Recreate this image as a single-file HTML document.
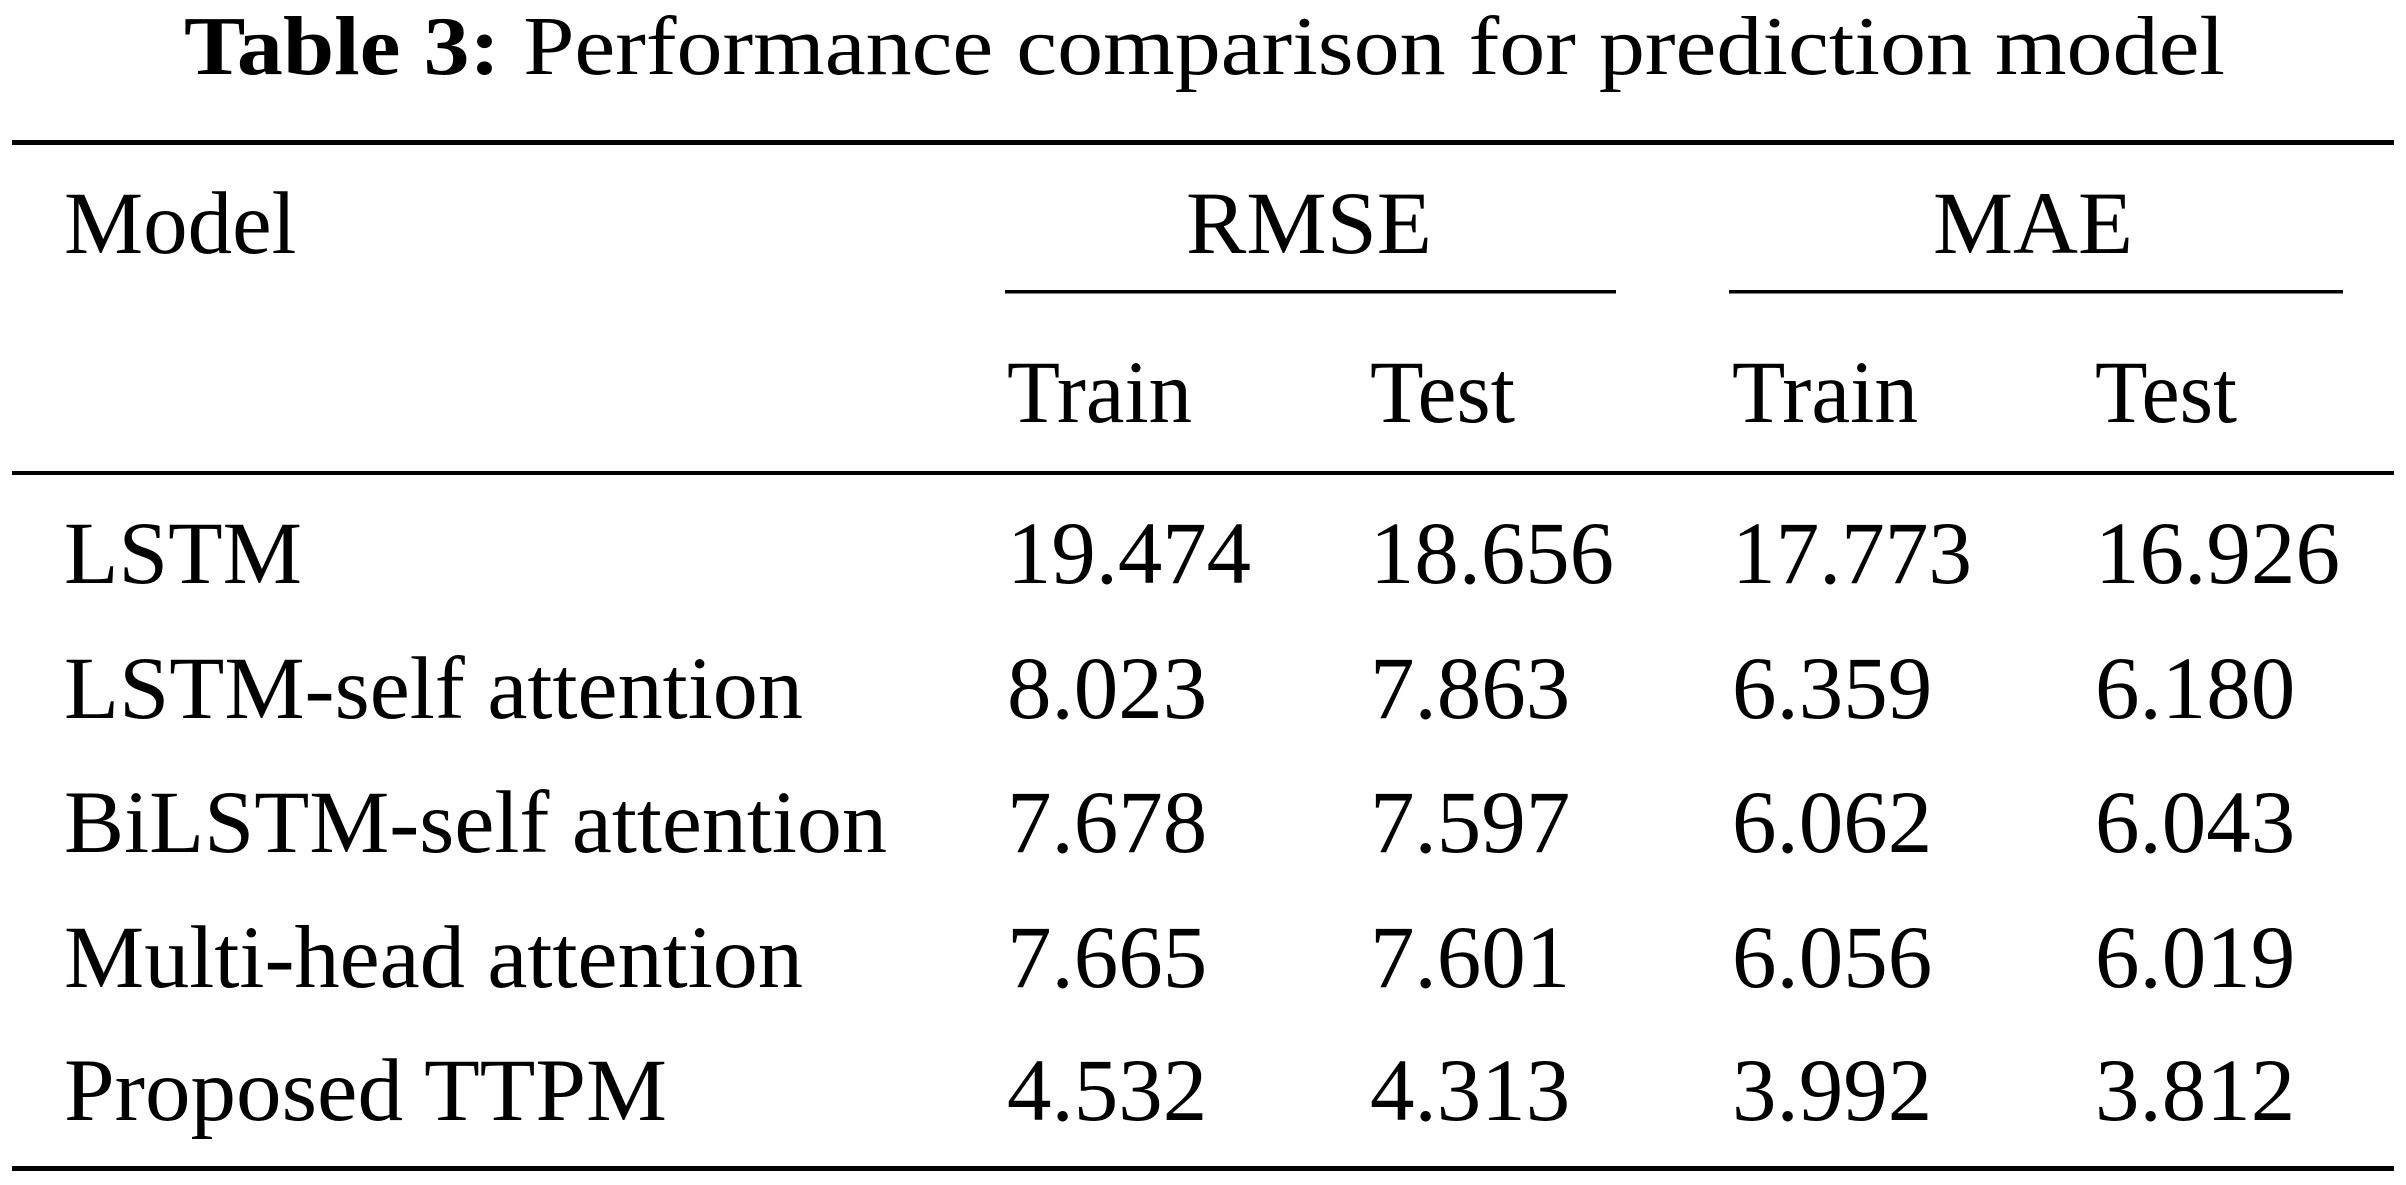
<!DOCTYPE html>
<html><head><meta charset="utf-8"><style>
html,body{margin:0;padding:0;background:#fff;width:2406px;height:1185px;overflow:hidden}
svg{display:block}
text{font-family:"Liberation Serif","Times New Roman",serif;fill:#000}
</style></head><body>
<svg width="2406" height="1185" viewBox="0 0 2406 1185">
<text x="184" y="74" font-size="84" textLength="2041" lengthAdjust="spacingAndGlyphs"><tspan font-weight="bold">Table 3:</tspan>  Performance comparison for prediction model</text>
<rect x="12" y="140" width="2382" height="5"/>
<text x="64" y="253" font-size="89">Model</text>
<text x="1186" y="253" font-size="89" textLength="246" lengthAdjust="spacingAndGlyphs">RMSE</text>
<text x="1933" y="253" font-size="89" textLength="200" lengthAdjust="spacingAndGlyphs">MAE</text>
<rect x="1005" y="290" width="611" height="3.5"/>
<rect x="1729" y="290" width="614" height="3.5"/>
<text x="1007" y="422" font-size="89" textLength="185" lengthAdjust="spacingAndGlyphs">Train</text>
<text x="1370" y="422" font-size="89" textLength="145" lengthAdjust="spacingAndGlyphs">Test</text>
<text x="1732" y="422" font-size="89" textLength="186" lengthAdjust="spacingAndGlyphs">Train</text>
<text x="2095" y="422" font-size="89" textLength="142" lengthAdjust="spacingAndGlyphs">Test</text>
<rect x="12" y="471" width="2382" height="4"/>
<g>
<text x="64" y="583" font-size="89" textLength="238" lengthAdjust="spacingAndGlyphs">LSTM</text>
<text x="1007" y="583" font-size="89" textLength="244" lengthAdjust="spacingAndGlyphs">19.474</text>
<text x="1370" y="583" font-size="89" textLength="244" lengthAdjust="spacingAndGlyphs">18.656</text>
<text x="1732" y="583" font-size="89" textLength="240" lengthAdjust="spacingAndGlyphs">17.773</text>
<text x="2095" y="583" font-size="89" textLength="245" lengthAdjust="spacingAndGlyphs">16.926</text>
</g>
<g>
<text x="64" y="718" font-size="89" textLength="739" lengthAdjust="spacingAndGlyphs">LSTM-self attention</text>
<text x="1007" y="718" font-size="89">8.023</text>
<text x="1370" y="718" font-size="89">7.863</text>
<text x="1732" y="718" font-size="89">6.359</text>
<text x="2095" y="718" font-size="89">6.180</text>
</g>
<g>
<text x="64" y="852" font-size="89" textLength="823" lengthAdjust="spacingAndGlyphs">BiLSTM-self attention</text>
<text x="1007" y="852" font-size="89">7.678</text>
<text x="1370" y="852" font-size="89">7.597</text>
<text x="1732" y="852" font-size="89">6.062</text>
<text x="2095" y="852" font-size="89">6.043</text>
</g>
<g>
<text x="64" y="987" font-size="89" textLength="739" lengthAdjust="spacingAndGlyphs">Multi-head attention</text>
<text x="1007" y="987" font-size="89">7.665</text>
<text x="1370" y="987" font-size="89">7.601</text>
<text x="1732" y="987" font-size="89">6.056</text>
<text x="2095" y="987" font-size="89">6.019</text>
</g>
<g>
<text x="64" y="1120" font-size="89" textLength="603" lengthAdjust="spacingAndGlyphs">Proposed TTPM</text>
<text x="1007" y="1120" font-size="89">4.532</text>
<text x="1370" y="1120" font-size="89">4.313</text>
<text x="1732" y="1120" font-size="89">3.992</text>
<text x="2095" y="1120" font-size="89">3.812</text>
</g>
<rect x="12" y="1166" width="2382" height="5"/>
</svg>
</body></html>
